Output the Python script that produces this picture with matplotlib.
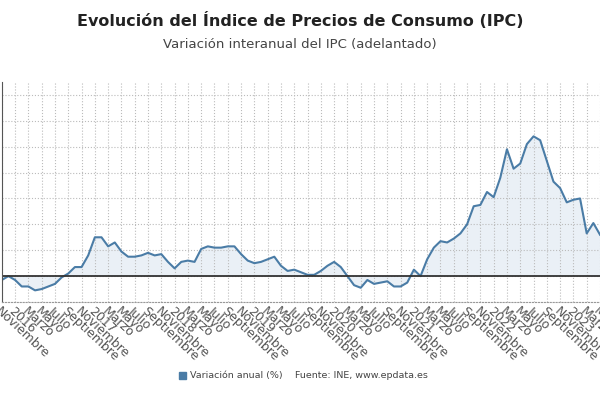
import matplotlib.pyplot as plt
import pandas as pd

values = [-0.3, 0.0,
          -0.3, -0.8, -0.8, -1.1, -1.0, -0.8, -0.6, -0.1, 0.2, 0.7, 0.7, 1.6,
          3.0, 3.0, 2.3, 2.6, 1.9, 1.5, 1.5, 1.6, 1.8, 1.6, 1.7, 1.1,
          0.6, 1.1, 1.2, 1.1, 2.1, 2.3, 2.2, 2.2, 2.3, 2.3, 1.7, 1.2,
          1.0, 1.1, 1.3, 1.5, 0.8, 0.4, 0.5, 0.3, 0.1, 0.1, 0.4, 0.8,
          1.1, 0.7, 0.0, -0.7, -0.9, -0.3, -0.6, -0.5, -0.4, -0.8, -0.8, -0.5,
          0.5, 0.0, 1.3, 2.2, 2.7, 2.6, 2.9, 3.3, 4.0, 5.4, 5.5, 6.5,
          6.1, 7.6, 9.8, 8.3, 8.7, 10.2, 10.8, 10.5, 8.9, 7.3, 6.8, 5.7,
          5.9, 6.0, 3.3, 4.1, 3.2]
dates = pd.date_range("2015-11-01", periods=len(values), freq="MS")
month_names = ["Enero", "Febrero", "Marzo", "Abril", "Mayo", "Junio", "Julio",
               "Agosto", "Septiembre", "Octubre", "Noviembre", "Diciembre"]

x = list(range(len(values)))
line_color = "#4a7ca6"

fig = plt.figure(figsize=(6, 4), dpi=100)
ax = fig.add_axes([0.003, 0.245, 0.997, 0.55])
ax.fill_between(x, values, 0, color="#dde7f1", alpha=0.6, lw=0)
ax.plot(x, values, color=line_color, lw=1.5)
ax.axhline(0, color="#333333", lw=1.3)

ax.set_xlim(0, 89.0)
ax.set_ylim(-2, 15)
ax.set_yticks(range(-2, 15, 2))
ax.set_yticklabels([])
ticks = x[::2]
labels = []
for i in ticks:
    d = dates[i]
    labels.append(str(d.year) if d.month == 1 else month_names[d.month - 1])
ax.set_xticks(ticks)
ax.set_xticklabels(labels, rotation=-43, ha="left", va="top",
                   rotation_mode="anchor", fontsize=9, color="#555555")
ax.tick_params(axis="both", length=0, pad=2)
ax.grid(True, color="#bbbbbb", ls=":", lw=0.8)
for s in ["top", "right"]:
    ax.spines[s].set_visible(False)
ax.spines["left"].set_color("#555555")
ax.spines["bottom"].set_color("#999999")
ax.spines["bottom"].set_linestyle(":")

fig.text(0.5, 0.935, "Evolución del Índice de Precios de Consumo (IPC)",
         ha="center", fontsize=11.5, fontweight="bold", color="#222222")
fig.text(0.5, 0.88, "Variación interanual del IPC (adelantado)",
         ha="center", fontsize=9.5, color="#444444")
fig.patches.append(plt.Rectangle((0.298, 0.052), 0.012, 0.018,
                                 transform=fig.transFigure, color=line_color))
fig.text(0.316, 0.062, "Variación anual (%)", fontsize=6.8, color="#444444", va="center")
fig.text(0.492, 0.062, "Fuente: INE, www.epdata.es", fontsize=6.8, color="#444444", va="center")

fig.savefig("out.png")
